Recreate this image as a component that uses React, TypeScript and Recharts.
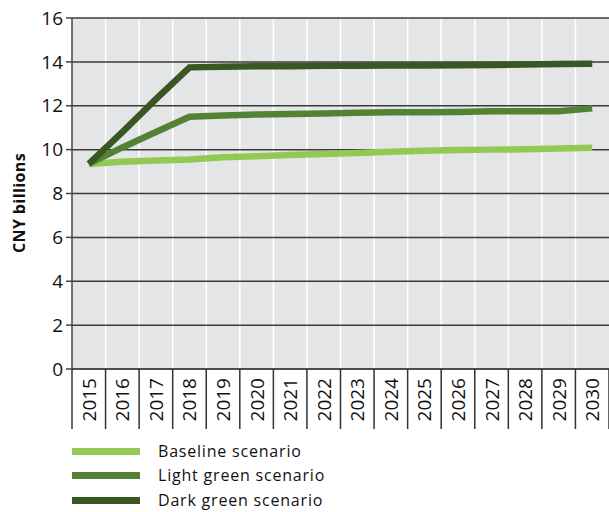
import React from "react";
import { LineChart, Line, XAxis, YAxis, CartesianGrid } from "recharts";

const years = ["2015", "2016", "2017", "2018", "2019", "2020", "2021", "2022", "2023", "2024", "2025", "2026", "2027", "2028", "2029", "2030"];
const baseline = [9.35, 9.45, 9.5, 9.55, 9.65, 9.7, 9.75, 9.8, 9.85, 9.9, 9.95, 9.98, 10.0, 10.02, 10.05, 10.08];
const lightGreen = [9.35, 10.1, 10.8, 11.5, 11.55, 11.6, 11.62, 11.65, 11.68, 11.7, 11.7, 11.72, 11.75, 11.75, 11.75, 11.88];
const darkGreen = [9.35, 10.8, 12.3, 13.75, 13.78, 13.8, 13.8, 13.82, 13.82, 13.83, 13.84, 13.85, 13.86, 13.88, 13.9, 13.92];
const yTicks = [0, 2, 4, 6, 8, 10, 12, 14, 16];

const series = [
  { key: "baseline", name: "Baseline scenario", color: "#92c955" },
  { key: "light", name: "Light green scenario", color: "#548235" },
  { key: "dark", name: "Dark green scenario", color: "#385723" },
];

const data = years.map((y, i) => ({
  year: y,
  baseline: baseline[i],
  light: lightGreen[i],
  dark: darkGreen[i],
}));

const FONT = "'Open Sans', sans-serif";
const W = 609;
const H = 512;
const LEFT = 72;
const TOP = 18;
const AXIS_H = 60;
const BOTTOM = 83;
const PLOT_W = W - LEFT;
const BAND = PLOT_W / years.length;

// rotated year label plus the divider lines under the axis
function YearTick(props: any) {
  const { x, y, payload, index } = props;
  const top = y - 8;
  return (
    <g>
      {index === 0 && (
        <line x1={x - BAND / 2} x2={x - BAND / 2} y1={top} y2={top + AXIS_H} stroke="#333" strokeWidth={1.5} />
      )}
      <line x1={x + BAND / 2} x2={x + BAND / 2} y1={top} y2={top + AXIS_H} stroke="#333" strokeWidth={1.5} />
      <text
        x={x}
        y={top + 9}
        transform={`rotate(-90 ${x} ${top + 9})`}
        textAnchor="end"
        dominantBaseline="central"
        fontSize={19}
        fill="#111"
        fontFamily={FONT}
      >
        {payload.value}
      </text>
    </g>
  );
}

export default function App() {
  return (
    <div style={{ position: "relative", width: W, height: H, fontFamily: FONT }}>
      <style>{`body{margin:0}`}</style>
      <LineChart width={W} height={H} data={data} margin={{ top: TOP, right: 0, bottom: BOTTOM, left: 0 }}>
        <CartesianGrid
          fill="#e4e5e7"
          horizontal={false}
          stroke="#ffffff"
          strokeWidth={1.5}
          verticalCoordinatesGenerator={({ offset }: any) =>
            years.slice(1).map((_, i) => offset.left + (i + 1) * (offset.width / years.length))
          }
        />
        <CartesianGrid vertical={false} stroke="#3a3a3a" strokeWidth={1.5} />
        <XAxis
          dataKey="year"
          height={AXIS_H}
          padding={{ left: BAND / 2, right: BAND / 2 }}
          axisLine={{ stroke: "#444", strokeWidth: 1.5 }}
          tickLine={false}
          tick={<YearTick />}
          interval={0}
        />
        <YAxis
          width={LEFT}
          domain={[0, 16]}
          ticks={yTicks}
          tickSize={6}
          tickMargin={3}
          axisLine={{ stroke: "#444", strokeWidth: 1.5 }}
          tickLine={{ stroke: "#444", strokeWidth: 1.5 }}
          tick={{ fontSize: 19, fill: "#111", fontFamily: FONT }}
        />
        {series.map((s) => (
          <Line
            key={s.key}
            dataKey={s.key}
            name={s.name}
            stroke={s.color}
            strokeWidth={6.5}
            dot={false}
            activeDot={false}
            strokeLinejoin="miter"
            isAnimationActive={false}
          />
        ))}
      </LineChart>
      {/* y axis title */}
      <svg width={40} height={H} style={{ position: "absolute", left: 0, top: 0, pointerEvents: "none" }}>
        <text
          x={19}
          y={203}
          transform="rotate(-90 19 203)"
          textAnchor="middle"
          dominantBaseline="central"
          fontSize={16}
          fontWeight={700}
          letterSpacing={0.4}
          fill="#111"
          fontFamily={FONT}
        >
          CNY billions
        </text>
      </svg>
      {/* legend */}
      <div style={{ position: "absolute", left: LEFT, top: 439 }}>
        {series.map((s) => (
          <div key={s.key} style={{ display: "flex", alignItems: "center", height: 24.5 }}>
            <span style={{ width: 68, height: 7, background: s.color, display: "inline-block" }} />
            <span style={{ marginLeft: 18, fontSize: 16, lineHeight: "17px", letterSpacing: 0.8, color: "#111" }}>
              {s.name}
            </span>
          </div>
        ))}
      </div>
    </div>
  );
}
